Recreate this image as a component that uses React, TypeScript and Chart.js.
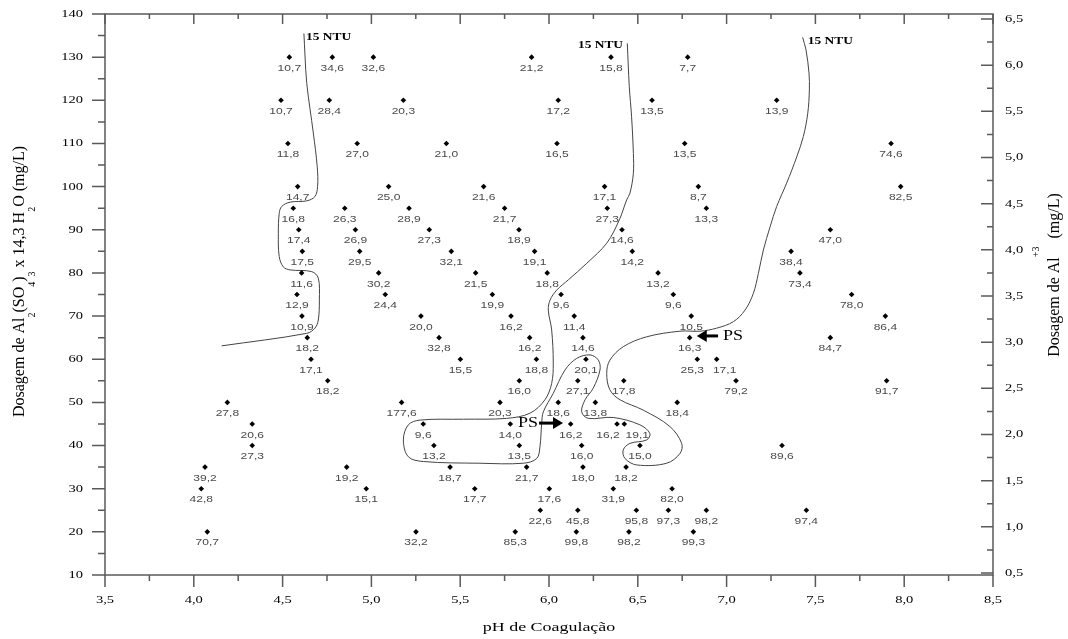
import React, { useEffect, useRef } from 'react';
import Chart from 'chart.js/auto';

// ---- Data: coagulation diagram (pH vs dosage), label = residual turbidity (NTU)
const phValues = [
  4.538, 4.780, 5.011, 5.902, 6.349, 6.781,
  4.491, 4.763, 5.180, 6.052, 6.580, 7.282,
  4.530, 4.920, 5.422, 6.045, 6.764, 7.926,
  4.585, 5.097, 5.632, 6.313, 6.841, 7.980,
  4.560, 4.850, 5.212, 5.750, 6.328, 6.886,
  4.591, 4.910, 5.326, 5.831, 6.411, 7.584,
  4.611, 4.934, 5.450, 5.919, 6.469, 7.363,
  4.607, 5.041, 5.587, 5.990, 6.614, 7.413,
  4.581, 5.078, 5.681, 6.068, 6.700, 7.704,
  4.609, 5.279, 5.786, 6.142, 6.801, 7.894,
  4.639, 5.381, 5.891, 6.191, 6.792, 7.584,
  4.660, 5.501, 5.929, 6.208, 6.835, 6.944,
  4.754, 5.833, 6.162, 6.421, 7.053, 7.901,
  4.189, 5.170, 5.724, 6.052, 6.261, 6.722,
  4.329, 5.292, 5.782, 6.122, 6.383, 6.424,
  4.329, 5.352, 5.833, 6.184, 6.512, 7.312,
  4.063, 4.861, 5.443, 5.874, 6.191, 6.434,
  4.042, 4.971, 5.582, 6.002, 6.362, 6.693,
  5.951, 6.162, 6.492, 6.672, 6.886, 7.449,
  4.076, 5.251, 5.810, 6.154, 6.450, 6.813,
];
const doseValues = [
  130, 130, 130, 130, 130, 130,
  120, 120, 120, 120, 120, 120,
  110, 110, 110, 110, 110, 110,
  100, 100, 100, 100, 100, 100,
  95, 95, 95, 95, 95, 95,
  90, 90, 90, 90, 90, 90,
  85, 85, 85, 85, 85, 85,
  80, 80, 80, 80, 80, 80,
  75, 75, 75, 75, 75, 75,
  70, 70, 70, 70, 70, 70,
  65, 65, 65, 65, 65, 65,
  60, 60, 60, 60, 60, 60,
  55, 55, 55, 55, 55, 55,
  50, 50, 50, 50, 50, 50,
  45, 45, 45, 45, 45, 45,
  40, 40, 40, 40, 40, 40,
  35, 35, 35, 35, 35, 35,
  30, 30, 30, 30, 30, 30,
  25, 25, 25, 25, 25, 25,
  20, 20, 20, 20, 20, 20,
];
const turbidityValues = [
  10.7, 34.6, 32.6, 21.2, 15.8, 7.7,
  10.7, 28.4, 20.3, 17.2, 13.5, 13.9,
  11.8, 27.0, 21.0, 16.5, 13.5, 74.6,
  14.7, 25.0, 21.6, 17.1, 8.7, 82.5,
  16.8, 26.3, 28.9, 21.7, 27.3, 13.3,
  17.4, 26.9, 27.3, 18.9, 14.6, 47.0,
  17.5, 29.5, 32.1, 19.1, 14.2, 38.4,
  11.6, 30.2, 21.5, 18.8, 13.2, 73.4,
  12.9, 24.4, 19.9, 9.6, 9.6, 78.0,
  10.9, 20.0, 16.2, 11.4, 10.5, 86.4,
  18.2, 32.8, 16.2, 14.6, 16.3, 84.7,
  17.1, 15.5, 18.8, 20.1, 25.3, 17.1,
  18.2, 16.0, 27.1, 17.8, 79.2, 91.7,
  27.8, 177.6, 20.3, 18.6, 13.8, 18.4,
  20.6, 9.6, 14.0, 16.2, 16.2, 19.1,
  27.3, 13.2, 13.5, 16.0, 15.0, 89.6,
  39.2, 19.2, 18.7, 21.7, 18.0, 18.2,
  42.8, 15.1, 17.7, 17.6, 31.9, 82.0,
  22.6, 45.8, 95.8, 97.3, 98.2, 97.4,
  70.7, 32.2, 85.3, 99.8, 98.2, 99.3,
];

// 15 NTU iso-turbidity curves
const ntuLeftPH = [4.620, 4.626, 4.636, 4.673, 4.695, 4.697, 4.682, 4.636, 4.542, 4.495, 4.481, 4.476, 4.481, 4.504, 4.542, 4.664, 4.701, 4.707, 4.701, 4.682, 4.636, 4.157];
const ntuLeftDose = [135.5, 130.5, 123.9, 112.4, 104.6, 100.0, 97.7, 96.7, 96.4, 95.4, 93.8, 89.2, 83.8, 81.4, 80.7, 80.3, 78.8, 73.7, 69.1, 67.2, 66.0, 63.1];
const ntuMainPH = [
  6.441, 6.452, 6.465, 6.475, 6.475, 6.456, 6.437, 6.396, 6.325, 6.212, 6.109, 6.043, 6.006, 5.996, 6.015, 6.024, 6.015, 5.977, 5.893, 5.762,
  5.518, 5.274, 5.208, 5.180, 5.208, 5.292, 5.611, 5.855, 5.931, 5.949, 5.959, 5.968, 6.024, 6.090, 6.156, 6.231, 6.278, 6.287, 6.249, 6.203,
  6.184, 6.221, 6.362, 6.512, 6.568, 6.550, 6.456, 6.418, 6.428, 6.494, 6.663, 6.738, 6.747, 6.681, 6.531, 6.400, 6.343, 6.325, 6.343, 6.418,
  6.550, 6.738, 6.850, 6.944, 7.038, 7.104, 7.151, 7.179, 7.207, 7.245, 7.282, 7.338, 7.395, 7.432, 7.457, 7.466, 7.464, 7.447, 7.428,
];
const ntuMainDose = [
  133.2, 123.2, 116.2, 107.7, 103.1, 98.5, 96.9, 92.3, 86.9, 82.2, 78.4, 76.0, 73.7, 71.4, 66.8, 59.1, 54.4, 50.6, 47.5, 46.3,
  46.1, 45.9, 44.8, 41.3, 37.4, 36.3, 35.9, 35.9, 37.0, 39.7, 45.2, 47.8, 52.1, 57.5, 60.2, 61.0, 59.8, 57.5, 53.3, 50.6,
  47.8, 46.3, 46.5, 44.8, 42.8, 41.3, 40.5, 39.0, 37.0, 35.5, 35.9, 38.2, 40.5, 44.4, 48.2, 50.6, 52.9, 56.7, 59.8, 62.9,
  65.2, 66.5, 66.5, 67.2, 68.7, 71.4, 75.3, 79.9, 85.3, 90.7, 95.4, 100.8, 106.9, 111.6, 117.0, 122.4, 126.3, 131.7, 134.6,
];

// Annotations (data coordinates)
const ntuLabelText = ['15 NTU', '15 NTU', '15 NTU'];
const ntuLabelPH = [4.632, 6.417, 7.457];
const ntuLabelDose = [134.7, 132.8, 133.8];
const psTipPH = [6.079, 6.832];
const psTailPH = [5.944, 6.952];
const psDose = [45.2, 65.4];

// Axis ticks
const xTickValues = [3.5, 4.0, 4.5, 5.0, 5.5, 6.0, 6.5, 7.0, 7.5, 8.0, 8.5];
const xTickLabels = ['3,5', '4,0', '4,5', '5,0', '5,5', '6,0', '6,5', '7,0', '7,5', '8,0', '8,5'];
const yTickValues = [10, 20, 30, 40, 50, 60, 70, 80, 90, 100, 110, 120, 130, 140];
const y2TickValues = [0.5, 1.0, 1.5, 2.0, 2.5, 3.0, 3.5, 4.0, 4.5, 5.0, 5.5, 6.0, 6.5];
const y2TickLabels = ['0,5', '1,0', '1,5', '2,0', '2,5', '3,0', '3,5', '4,0', '4,5', '5,0', '5,5', '6,0', '6,5'];

// label placement nudges (px) for crowded labels
const LABEL_NUDGE: Record<number, number> = { 70: -5, 71: 8, 88: -9, 89: 13 };

const SERIF = '"Liberation Serif", "Times New Roman", serif';
const SANS = '"Liberation Sans", Arial, sans-serif';
const AXIS_COLOR = '#5a5a5a';

function drawStretched(ctx: CanvasRenderingContext2D, text: string, x: number, y: number, font: string, align: CanvasTextAlign, sx: number, color: string) {
  ctx.save();
  ctx.translate(x, y);
  ctx.scale(sx, 1);
  ctx.font = font;
  ctx.textAlign = align;
  ctx.textBaseline = 'middle';
  ctx.fillStyle = color;
  ctx.fillText(text, 0, 0);
  ctx.restore();
}

type Part = { t: string; k: 'n' | 'sub' | 'sup' };

function drawRotatedRich(ctx: CanvasRenderingContext2D, parts: Part[], bx: number, cy: number) {
  const fontFor = (k: string) => (k === 'n' ? `16px ${SERIF}` : `10px ${SERIF}`);
  ctx.save();
  ctx.translate(bx, cy);
  ctx.rotate(-Math.PI / 2);
  ctx.textAlign = 'left';
  ctx.textBaseline = 'alphabetic';
  ctx.fillStyle = '#000';
  let total = 0;
  for (const p of parts) {
    ctx.font = fontFor(p.k);
    total += ctx.measureText(p.t).width;
  }
  let x = -total / 2;
  for (const p of parts) {
    ctx.font = fontFor(p.k);
    const dy = p.k === 'sub' ? 11 : p.k === 'sup' ? -20 : 0;
    ctx.fillText(p.t, x, dy);
    x += ctx.measureText(p.t).width;
  }
  ctx.restore();
}

const decorPlugin = {
  id: 'decor',
  beforeDatasetsDraw(chart: any) {
    const ctx: CanvasRenderingContext2D = chart.ctx;
    const { left, right, top, bottom } = chart.chartArea;
    const xs = chart.scales.x;
    const ys = chart.scales.y;
    const y2 = chart.scales.y2;
    ctx.save();
    ctx.strokeStyle = AXIS_COLOR;
    ctx.lineWidth = 1.5;
    ctx.strokeRect(left, top, right - left, bottom - top);
    ctx.beginPath();
    xTickValues.forEach((v, i) => {
      const px = xs.getPixelForValue(v);
      ctx.moveTo(px, bottom); ctx.lineTo(px, bottom + 12);
      ctx.moveTo(px, top); ctx.lineTo(px, top + 10);
      if (i < xTickValues.length - 1) {
        const mx = xs.getPixelForValue((v + xTickValues[i + 1]) / 2);
        ctx.moveTo(mx, bottom); ctx.lineTo(mx, bottom + 6);
        ctx.moveTo(mx, top); ctx.lineTo(mx, top + 5);
      }
    });
    yTickValues.forEach((v, i) => {
      const py = ys.getPixelForValue(v);
      ctx.moveTo(left, py); ctx.lineTo(left - 13, py);
      if (i < yTickValues.length - 1) {
        const my = ys.getPixelForValue((v + yTickValues[i + 1]) / 2);
        ctx.moveTo(left, my); ctx.lineTo(left - 7, my);
      }
    });
    y2TickValues.forEach((v, i) => {
      const py = y2.getPixelForValue(v);
      ctx.moveTo(right, py); ctx.lineTo(right - 12, py);
      if (i < y2TickValues.length - 1) {
        const my = y2.getPixelForValue((v + y2TickValues[i + 1]) / 2);
        ctx.moveTo(right, my); ctx.lineTo(right - 6, my);
      }
    });
    ctx.stroke();
    ctx.restore();

    const tickFont = `11px ${SERIF}`;
    xTickValues.forEach((v, i) => {
      drawStretched(ctx, xTickLabels[i], xs.getPixelForValue(v), bottom + 25, tickFont, 'center', 1.32, '#000');
    });
    yTickValues.forEach((v) => {
      drawStretched(ctx, String(v), left - 22, ys.getPixelForValue(v), tickFont, 'right', 1.32, '#000');
    });
    y2TickValues.forEach((v, i) => {
      drawStretched(ctx, y2TickLabels[i], right + 12, y2.getPixelForValue(v), tickFont, 'left', 1.32, '#000');
    });

    drawStretched(ctx, 'pH de Coagulação', xs.getPixelForValue(6.0), bottom + 53, `13px ${SERIF}`, 'center', 1.38, '#000');
    drawRotatedRich(ctx, [
      { t: 'Dosagem de Al', k: 'n' }, { t: '2', k: 'sub' }, { t: '(SO', k: 'n' }, { t: '4', k: 'sub' },
      { t: ')', k: 'n' }, { t: '3', k: 'sub' }, { t: ' x 14,3 H', k: 'n' }, { t: '2', k: 'sub' }, { t: 'O (mg/L)', k: 'n' },
    ], 23.5, 281.5);
    drawRotatedRich(ctx, [
      { t: 'Dosagem de Al', k: 'n' }, { t: '+3', k: 'sup' }, { t: '  (mg/L)', k: 'n' },
    ], 1059, 275);
  },
  afterDatasetsDraw(chart: any) {
    const ctx: CanvasRenderingContext2D = chart.ctx;
    const xs = chart.scales.x;
    const ys = chart.scales.y;
    const labelFont = `9.5px ${SANS}`;
    phValues.forEach((ph, i) => {
      const px = xs.getPixelForValue(ph) + (LABEL_NUDGE[i] || 0);
      const py = ys.getPixelForValue(doseValues[i]);
      drawStretched(ctx, turbidityValues[i].toFixed(1).replace('.', ','), px, py + 11, labelFont, 'center', 1.27, '#4a4a4a');
    });
    ntuLabelText.forEach((t, i) => {
      drawStretched(ctx, t, xs.getPixelForValue(ntuLabelPH[i]), ys.getPixelForValue(ntuLabelDose[i]), `bold 11px ${SERIF}`, i === 1 ? 'right' : 'left', 1.22, '#000');
    });
    psTipPH.forEach((tip, i) => {
      const tx = xs.getPixelForValue(tip);
      const ax = xs.getPixelForValue(psTailPH[i]);
      const py = ys.getPixelForValue(psDose[i]);
      const dir = ax < tx ? 1 : -1;
      const headLen = 10;
      ctx.save();
      ctx.strokeStyle = '#000';
      ctx.fillStyle = '#000';
      ctx.lineWidth = 3;
      ctx.beginPath();
      ctx.moveTo(ax, py);
      ctx.lineTo(tx - dir * headLen * 0.8, py);
      ctx.stroke();
      ctx.beginPath();
      ctx.moveTo(tx, py);
      ctx.lineTo(tx - dir * headLen, py - 6);
      ctx.lineTo(tx - dir * headLen, py + 6);
      ctx.closePath();
      ctx.fill();
      ctx.restore();
      const textX = dir === 1 ? ax - 1 : ax + 5;
      drawStretched(ctx, 'PS', textX, py, `15px ${SERIF}`, dir === 1 ? 'right' : 'left', 1.2, '#000');
    });
  },
};

export default function App() {
  const canvasRef = useRef<HTMLCanvasElement | null>(null);
  useEffect(() => {
    const canvas = canvasRef.current;
    if (!canvas) return;
    const chart = new Chart(canvas, {
      type: 'scatter',
      data: {
        datasets: [
          {
            label: 'Turbidez remanescente',
            data: phValues.map((x, i) => ({ x, y: doseValues[i] })),
            pointStyle: 'rectRot',
            pointRadius: 2.8,
            pointBorderWidth: 0,
            backgroundColor: '#000',
            borderColor: '#000',
            showLine: false,
          },
          {
            label: '15 NTU (esquerda)',
            data: ntuLeftPH.map((x, i) => ({ x, y: ntuLeftDose[i] })),
            showLine: true,
            pointRadius: 0,
            borderColor: '#444',
            borderWidth: 1,
            tension: 0.35,
            fill: false,
          },
          {
            label: '15 NTU',
            data: ntuMainPH.map((x, i) => ({ x, y: ntuMainDose[i] })),
            showLine: true,
            pointRadius: 0,
            borderColor: '#444',
            borderWidth: 1,
            tension: 0.35,
            fill: false,
          },
        ],
      },
      options: {
        responsive: false,
        animation: false,
        events: [],
        layout: { padding: { left: 105, right: 75, top: 14, bottom: 64 } },
        plugins: { legend: { display: false }, tooltip: { enabled: false } },
        scales: {
          x: { type: 'linear', min: 3.5, max: 8.5, display: false },
          y: { type: 'linear', min: 10, max: 140, display: false },
          y2: { type: 'linear', position: 'right', min: 0.478, max: 6.554, display: false },
        },
      },
      plugins: [decorPlugin],
    } as any);
    return () => chart.destroy();
  }, []);
  return (
    <div style={{ position: 'absolute', left: 0, top: 0, width: 1068, height: 639, background: '#fff' }}>
      <canvas ref={canvasRef} width={1068} height={639} style={{ display: 'block' }} />
    </div>
  );
}
